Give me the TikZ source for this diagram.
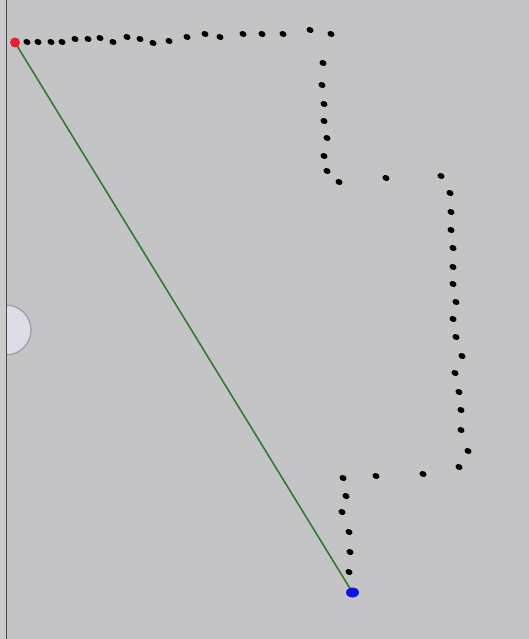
\documentclass[tikz,border=0pt]{standalone}
\usepackage{tikz}
\usetikzlibrary{arrows.meta, calc, shapes.geometric}
\definecolor{bggray}{HTML}{C4C4C6}
\definecolor{stripgray}{HTML}{CBCBCC}
\definecolor{knobfill}{HTML}{DDDDE8}
\definecolor{pathgreen}{HTML}{2F7D2A}
\definecolor{startred}{HTML}{E8202A}
\definecolor{endblue}{HTML}{0A14E6}

\begin{document}
\begin{tikzpicture}[x=1pt, y=-1pt,
    routestyle/.style={pathgreen, line width=1.6pt},
    startdot/.style={circle, fill=startred, inner sep=0pt, minimum size=10pt},
    enddot/.style={ellipse, fill=endblue, inner sep=0pt, minimum width=13pt, minimum height=10pt}]
  % canvas
  \fill[bggray] (0,0) rectangle (529,639);
  \useasboundingbox (0,0) rectangle (529,639);
  % half knob on the left edge
  \filldraw[fill=knobfill, draw=gray!75, line width=1.3pt] (6,330) circle (25);
  \fill[stripgray] (0,0) rectangle (6,639);
  \draw[gray!55!black, line width=1.5pt] (6.5,0) -- (6.5,639);
  % sampled points along the traced outline
  \foreach \px/\py in {27/42, 38/42, 51/42, 62/42, 75/39, 88/39, 100/38, 113/42,
      127/37, 140/39, 153/43, 169/41, 187/37, 205/34, 220/37, 243/34, 262/34,
      283/34, 310/30, 331/34,
      323/63, 322/85, 324/104, 324/121, 327/138, 324/156, 327/171, 339/182,
      386/178, 441/176,
      450/193, 451/212, 451/230, 453/248, 453/267, 453/284, 456/302, 453/319,
      456/337, 462/356, 455/373, 459/392, 461/410, 461/430, 468/451, 459/467,
      423/474, 376/476, 343/478,
      346/496, 342/512, 349/532, 350/552, 349/572}
    \fill[black, rotate around={-20:(\px,\py)}] (\px,\py) ellipse (3.6 and 2.9);
  % start and end
  \coordinate (S) at (15,42.5);
  \coordinate (G) at (352.5,592.5);
  \draw[routestyle] (S) -- (G);
  \node[enddot] (goal) at (G) {};
  \node[startdot] (start) at (S) {};
\end{tikzpicture}
\end{document}
